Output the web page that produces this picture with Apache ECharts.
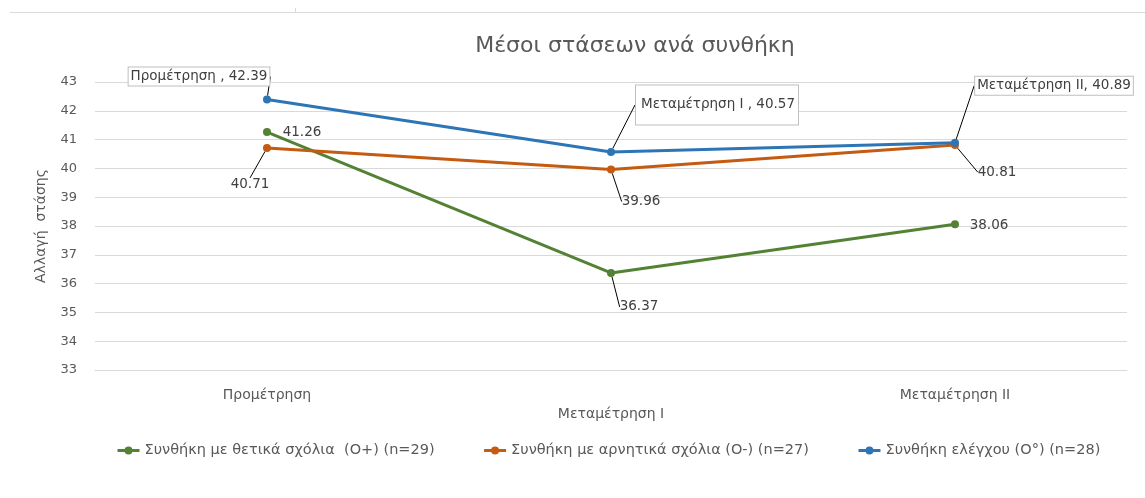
<!DOCTYPE html>
<html>
<head>
<meta charset="utf-8">
<script src="https://cdn.jsdelivr.net/npm/echarts@6/dist/echarts.min.js"></script>
<style>
  html, body { margin: 0; padding: 0; background: #fff; }
  #chart { width: 1145px; height: 498px; }
</style>
</head>
<body>
<div id="chart"></div>
<script>
// data
var categories = ['Προμέτρηση', 'Μεταμέτρηση I', 'Μεταμέτρηση II'];
var seriesNames = [
  'Συνθήκη με θετικά σχόλια  (Ο+) (n=29)',
  'Συνθήκη με αρνητικά σχόλια (Ο-) (n=27)',
  'Συνθήκη ελέγχου (Ο°) (n=28)'
];
var positiveVals = [41.26, 36.37, 38.06];
var negativeVals = [40.71, 39.96, 40.81];
var controlVals = [42.39, 40.57, 40.89];
var yTicks = { min: 33, max: 43, step: 1 };

// label offsets (px, relative to each point)
var labelShift = [
  [[35, 0], [28, 34], [34, 1]],
  [[-17, 37], [30, 32], [42, 27]],
  [[-68, -23], [106, -47], [99, -57]]
];
var colors = ['#548235', '#C55A11', '#2E75B6'];
var FONT = 'DejaVu Sans';
var GREY = '#595959';

function fmtBoxed(p) {
  return p.name + (p.dataIndex < 2 ? ' , ' : ', ') + Number(p.value).toFixed(2);
}

function makeSeries(idx, vals, boxed) {
  return {
    name: seriesNames[idx],
    type: 'line',
    data: vals,
    symbol: 'circle',
    symbolSize: 8,
    lineStyle: { width: 3, color: colors[idx] },
    itemStyle: { color: colors[idx] },
    label: {
      show: true,
      position: 'inside',
      fontFamily: FONT,
      fontSize: 13.5,
      color: '#404040',
      formatter: boxed ? fmtBoxed : function (p) { return Number(p.value).toFixed(2); },
      backgroundColor: boxed ? '#fff' : 'transparent',
      borderColor: boxed ? '#bfbfbf' : 'transparent',
      borderWidth: boxed ? 1 : 0,
      padding: boxed ? [2, 2, 2, 2] : 0
    },
    labelLine: { show: true, lineStyle: { color: '#000', width: 1 }, length2: 0 },
    labelLayout: function (p) {
      var s = labelShift[idx][p.dataIndex];
      return { dx: s[0], dy: s[1] };
    },
    z: 2 + idx
  };
}

var chart = echarts.init(document.getElementById('chart'));

var series = [
  makeSeries(0, positiveVals, false),
  makeSeries(1, negativeVals, false),
  makeSeries(2, controlVals, true)
];
// labels sitting right next to their point have no leader line
series[0].data = positiveVals.map(function (v, i) {
  return i === 1 ? v : { value: v, labelLine: { show: false } };
});
// the middle box of the control series is taller in the original
series[2].data = controlVals.map(function (v, i) {
  return i === 1 ? { value: v, label: { padding: [20, 3, 5, 5] } } : v;
});

chart.setOption({
  animation: false,
  backgroundColor: '#fff',
  textStyle: { fontFamily: FONT },
  title: {
    text: 'Μέσοι στάσεων ανά συνθήκη',
    left: 630,
    textAlign: 'center',
    top: 30,
    textStyle: { fontFamily: FONT, fontSize: 22, fontWeight: 'normal', color: GREY }
  },
  legend: {
    bottom: 35,
    left: 111,
    itemGap: 48,
    itemWidth: 22,
    itemHeight: 10,
    lineStyle: { width: 3 },
    textStyle: { fontFamily: FONT, fontSize: 14.5, color: GREY },
    data: seriesNames
  },
  grid: { left: 95, right: 18, top: 82, bottom: 128 },
  xAxis: {
    type: 'category',
    data: categories,
    boundaryGap: true,
    axisLine: { show: true, lineStyle: { color: '#d9d9d9' } },
    axisTick: { show: false },
    axisLabel: {
      fontFamily: FONT,
      fontSize: 14,
      color: GREY,
      margin: 16,
      interval: 0,
      lineHeight: 19,
      formatter: function (v, i) { return i % 2 ? '\n' + v : v; }
    }
  },
  yAxis: {
    type: 'value',
    min: yTicks.min,
    max: yTicks.max,
    interval: yTicks.step,
    name: 'Αλλαγή  στάσης',
    nameLocation: 'middle',
    nameGap: 47,
    nameTextStyle: { fontFamily: FONT, fontSize: 14, color: GREY },
    axisLine: { show: false },
    axisTick: { show: false },
    axisLabel: { fontFamily: FONT, fontSize: 13, color: GREY, margin: 18 },
    splitLine: { lineStyle: { color: '#d9d9d9', width: 1 } }
  },
  graphic: [
    { type: 'line', shape: { x1: 10, y1: 12.5, x2: 1145, y2: 12.5 }, style: { stroke: '#d9d9d9', lineWidth: 1 } },
    { type: 'line', shape: { x1: 295.5, y1: 8, x2: 295.5, y2: 12 }, style: { stroke: '#d9d9d9', lineWidth: 1 } }
  ],
  series: series
});
</script>
</body>
</html>
